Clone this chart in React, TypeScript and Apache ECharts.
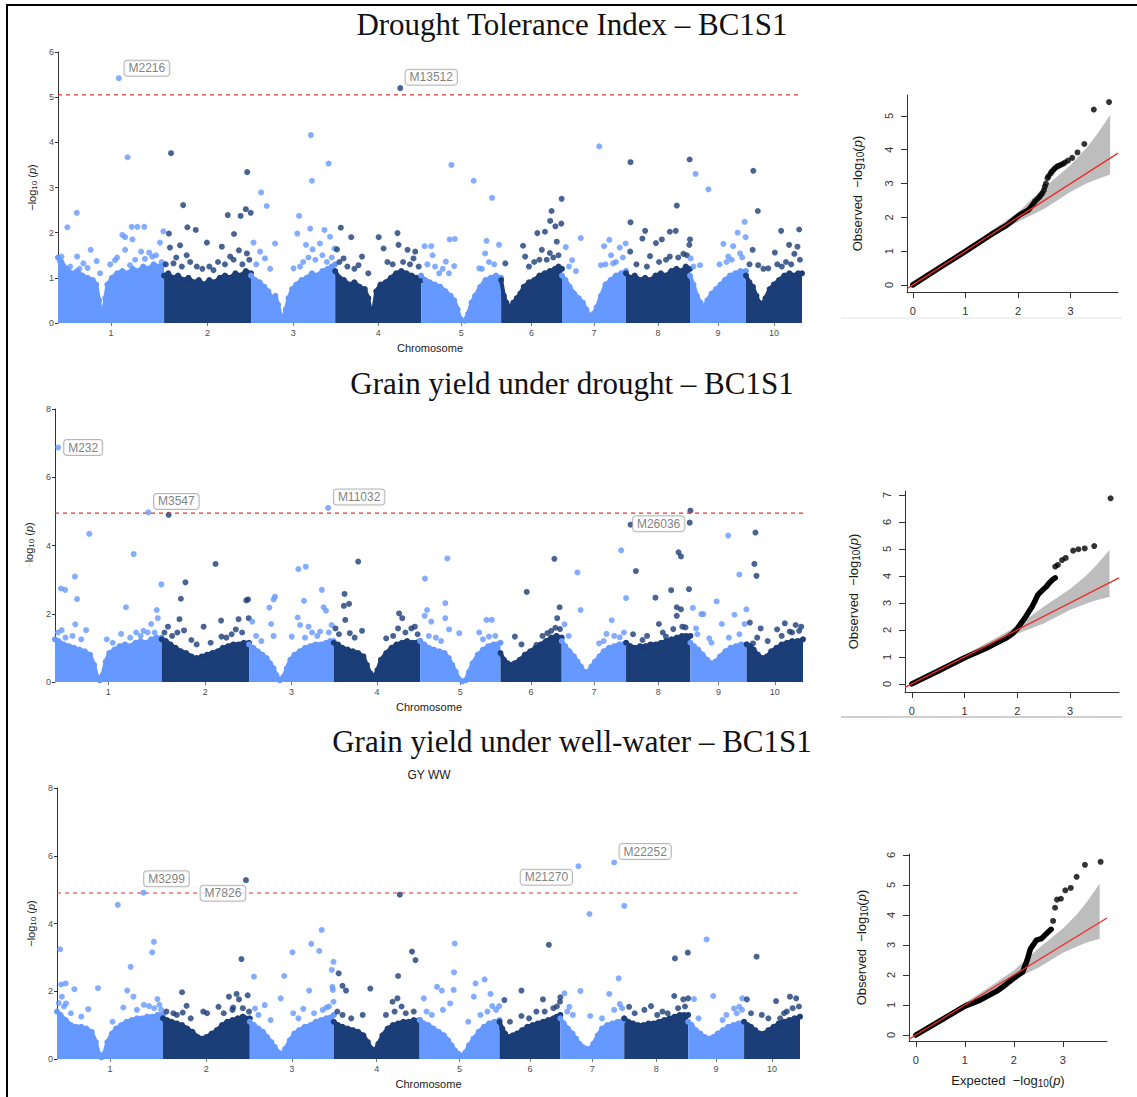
import React, { useEffect, useRef } from "react";
import * as echarts from "echarts";

const W = 1137;
const H = 1097;
const SANS = "'Liberation Sans', Arial, sans-serif";
const SERIF = "'Liberation Serif', 'Times New Roman', serif";
const LIGHT = "#6699ff";
const DARK = "#1b3d78";

// ---------- data ----------
const chromosomes = ["1", "2", "3", "4", "5", "6", "7", "8", "9", "10"];
const chromLengths = [305, 250, 242, 247, 230, 175, 184, 184, 161, 161];

const titles = [
  "Drought Tolerance Index – BC1S1",
  "Grain yield under drought – BC1S1",
  "Grain yield under well-water – BC1S1",
];
const subtitle3 = "GY WW";
const yMaxes = [6, 8, 8];
const yIntervals = [1, 2, 2];
const thresholds = [5.05, 4.95, 4.9];

// dense bottom mass of markers: per chromosome [position, upper -log10(p)]
const envelope1: number[][][] = [
  [[0, 1.45], [10, 1.35], [25, 1.2], [40, 1.1], [55, 1.15], [70, 1.05], [85, 1.0], [100, 0.95], [110, 0.85], [118, 0.5], [124, 0.2], [130, 0.2], [136, 0.55], [142, 0.85], [155, 1.0], [170, 1.1], [185, 1.15], [200, 1.1], [215, 1.2], [230, 1.15], [245, 1.25], [260, 1.2], [275, 1.3], [290, 1.25], [305, 1.3]],
  [[0, 1.05], [12, 1.1], [25, 1.0], [40, 1.05], [55, 0.95], [70, 1.0], [85, 0.9], [100, 0.95], [115, 0.85], [130, 0.95], [145, 0.9], [160, 1.0], [175, 1.05], [190, 1.0], [205, 1.1], [220, 1.05], [235, 1.15], [250, 1.1]],
  [[0, 1.05], [12, 0.95], [25, 0.9], [38, 0.8], [50, 0.7], [60, 0.55], [70, 0.6], [78, 0.4], [85, 0.15], [92, 0.1], [100, 0.3], [108, 0.55], [118, 0.75], [130, 0.85], [145, 0.95], [160, 1.0], [175, 1.1], [190, 1.05], [205, 1.15], [220, 1.2], [232, 1.25], [242, 1.3]],
  [[0, 1.15], [12, 1.0], [25, 0.95], [40, 0.85], [55, 0.9], [70, 0.8], [85, 0.75], [95, 0.55], [102, 0.25], [110, 0.3], [118, 0.7], [130, 0.85], [145, 0.9], [160, 1.0], [175, 1.1], [190, 1.15], [205, 1.1], [220, 1.05], [235, 1.0], [247, 0.95]],
  [[0, 1.05], [12, 0.95], [25, 0.9], [40, 0.85], [55, 0.8], [70, 0.7], [85, 0.6], [95, 0.5], [105, 0.3], [112, 0.1], [125, 0.05], [135, 0.2], [145, 0.45], [155, 0.6], [170, 0.8], [185, 0.95], [200, 1.0], [215, 1.05], [230, 1.0]],
  [[0, 0.95], [8, 0.6], [15, 0.45], [25, 0.35], [35, 0.45], [45, 0.55], [55, 0.65], [65, 0.8], [80, 0.9], [95, 0.95], [110, 1.05], [125, 1.1], [140, 1.15], [155, 1.2], [165, 1.25], [175, 1.2]],
  [[0, 1.05], [10, 0.95], [22, 0.8], [35, 0.65], [48, 0.55], [60, 0.45], [70, 0.3], [80, 0.15], [90, 0.2], [100, 0.35], [112, 0.6], [125, 0.85], [140, 0.95], [155, 1.05], [170, 1.1], [184, 1.15]],
  [[0, 1.1], [12, 1.0], [25, 1.05], [40, 0.95], [55, 1.0], [70, 0.95], [85, 1.05], [100, 1.1], [115, 1.05], [130, 1.15], [145, 1.2], [160, 1.15], [172, 1.25], [184, 1.2]],
  [[0, 1.05], [10, 0.85], [20, 0.6], [30, 0.45], [40, 0.35], [50, 0.5], [62, 0.65], [75, 0.75], [88, 0.85], [100, 0.95], [115, 1.05], [130, 1.1], [145, 1.15], [161, 1.15]],
  [[0, 1.05], [10, 0.9], [20, 0.8], [30, 0.6], [38, 0.45], [46, 0.4], [56, 0.55], [68, 0.75], [80, 0.85], [95, 0.95], [110, 1.05], [125, 1.1], [140, 1.05], [150, 1.1], [161, 1.1]],
];
const envelope2: number[][][] = [
  [[0, 1.25], [10, 1.2], [25, 1.1], [40, 1.05], [55, 1.0], [70, 0.95], [85, 0.9], [100, 0.8], [112, 0.5], [120, 0.15], [128, 0.05], [136, 0.2], [145, 0.6], [155, 0.85], [170, 0.95], [185, 1.05], [200, 1.1], [215, 1.05], [230, 1.15], [245, 1.2], [260, 1.15], [275, 1.25], [290, 1.3], [305, 1.3]],
  [[0, 1.25], [12, 1.2], [25, 1.1], [40, 1.0], [55, 0.9], [70, 0.85], [85, 0.75], [100, 0.7], [115, 0.75], [130, 0.8], [145, 0.85], [160, 0.9], [175, 1.0], [190, 1.05], [205, 1.1], [220, 1.1], [235, 1.15], [250, 1.15]],
  [[0, 1.1], [12, 1.0], [25, 0.9], [38, 0.8], [50, 0.7], [60, 0.55], [70, 0.4], [78, 0.2], [88, 0.05], [98, 0.15], [108, 0.4], [118, 0.65], [130, 0.8], [145, 0.9], [160, 1.0], [175, 1.05], [190, 1.1], [205, 1.1], [220, 1.15], [232, 1.2], [242, 1.2]],
  [[0, 1.15], [12, 1.1], [25, 1.0], [40, 0.95], [55, 0.9], [70, 0.85], [85, 0.75], [95, 0.5], [105, 0.25], [115, 0.15], [125, 0.35], [135, 0.65], [150, 0.85], [165, 1.0], [180, 1.1], [195, 1.15], [210, 1.2], [225, 1.15], [247, 1.2]],
  [[0, 1.2], [12, 1.1], [25, 1.0], [40, 0.95], [55, 0.9], [70, 0.85], [82, 0.7], [92, 0.5], [102, 0.3], [110, 0.1], [120, 0.02], [130, 0.05], [140, 0.3], [150, 0.55], [165, 0.8], [180, 0.95], [195, 1.05], [210, 1.1], [230, 1.15]],
  [[0, 0.85], [10, 0.65], [20, 0.55], [30, 0.5], [40, 0.55], [55, 0.65], [70, 0.8], [85, 0.9], [100, 1.0], [115, 1.1], [130, 1.2], [145, 1.3], [160, 1.35], [175, 1.3]],
  [[0, 1.2], [10, 1.05], [22, 0.9], [35, 0.75], [45, 0.6], [55, 0.45], [65, 0.3], [75, 0.3], [85, 0.45], [95, 0.6], [108, 0.75], [120, 0.9], [135, 1.0], [150, 1.05], [165, 1.1], [184, 1.15]],
  [[0, 1.15], [12, 1.05], [25, 1.0], [40, 1.05], [55, 1.05], [70, 1.1], [85, 1.1], [100, 1.15], [115, 1.2], [130, 1.25], [145, 1.3], [160, 1.35], [172, 1.35], [184, 1.35]],
  [[0, 1.15], [10, 1.05], [22, 0.95], [35, 0.8], [48, 0.65], [60, 0.55], [72, 0.6], [85, 0.75], [100, 0.9], [115, 1.0], [130, 1.05], [145, 1.1], [161, 1.1]],
  [[0, 1.1], [10, 1.05], [20, 0.95], [32, 0.8], [45, 0.7], [58, 0.75], [70, 0.9], [85, 1.0], [100, 1.1], [115, 1.15], [130, 1.2], [145, 1.2], [161, 1.25]],
];
const envelope3: number[][][] = [
  [[0, 1.4], [10, 1.3], [25, 1.15], [40, 1.0], [55, 0.95], [70, 0.95], [85, 0.9], [100, 0.8], [112, 0.5], [120, 0.15], [128, 0.05], [136, 0.15], [145, 0.5], [158, 0.75], [170, 0.9], [185, 1.0], [200, 1.1], [215, 1.15], [230, 1.2], [245, 1.2], [260, 1.25], [275, 1.25], [290, 1.3], [305, 1.3]],
  [[0, 1.2], [12, 1.15], [25, 1.1], [40, 1.05], [55, 1.0], [70, 0.9], [85, 0.8], [100, 0.65], [112, 0.6], [125, 0.65], [140, 0.75], [155, 0.85], [170, 1.0], [185, 1.1], [200, 1.15], [215, 1.2], [230, 1.25], [250, 1.2]],
  [[0, 1.1], [12, 1.0], [25, 0.9], [38, 0.8], [50, 0.65], [62, 0.5], [72, 0.35], [82, 0.2], [92, 0.15], [102, 0.3], [115, 0.55], [128, 0.75], [142, 0.85], [158, 0.95], [175, 1.0], [190, 1.1], [205, 1.15], [220, 1.2], [242, 1.3]],
  [[0, 1.1], [12, 1.0], [25, 0.95], [40, 0.9], [55, 0.85], [70, 0.8], [85, 0.7], [98, 0.5], [108, 0.3], [118, 0.25], [128, 0.45], [140, 0.7], [155, 0.9], [170, 1.0], [185, 1.05], [200, 1.1], [215, 1.1], [230, 1.15], [247, 1.15]],
  [[0, 1.15], [12, 1.05], [25, 1.0], [40, 0.9], [55, 0.8], [70, 0.7], [82, 0.55], [92, 0.4], [102, 0.25], [112, 0.15], [122, 0.1], [132, 0.2], [142, 0.4], [155, 0.6], [170, 0.8], [185, 0.95], [200, 1.05], [215, 1.1], [230, 1.15]],
  [[0, 1.1], [8, 0.9], [16, 0.75], [26, 0.65], [38, 0.7], [50, 0.75], [65, 0.85], [80, 0.95], [95, 1.0], [110, 1.05], [125, 1.1], [140, 1.15], [155, 1.2], [165, 1.25], [175, 1.3]],
  [[0, 1.2], [10, 1.05], [22, 0.9], [35, 0.75], [45, 0.6], [55, 0.45], [65, 0.35], [75, 0.3], [85, 0.3], [95, 0.45], [108, 0.7], [120, 0.9], [135, 1.0], [150, 1.05], [165, 1.1], [184, 1.15]],
  [[0, 1.2], [12, 1.1], [25, 1.05], [40, 1.0], [55, 1.0], [70, 1.05], [85, 1.05], [100, 1.1], [115, 1.15], [130, 1.2], [145, 1.25], [160, 1.3], [172, 1.3], [184, 1.3]],
  [[0, 1.1], [10, 1.0], [22, 0.85], [35, 0.75], [48, 0.65], [60, 0.6], [72, 0.65], [85, 0.75], [100, 0.85], [115, 0.95], [130, 1.0], [145, 1.05], [161, 1.1]],
  [[0, 1.1], [10, 1.0], [20, 0.95], [32, 0.85], [45, 0.75], [58, 0.75], [70, 0.85], [85, 0.95], [100, 1.05], [115, 1.1], [130, 1.15], [145, 1.2], [161, 1.25]],
];

// individual markers above the dense mass: [chromosome, position, -log10(p)]
const points1: number[][] = [
  [1, 200, 3.67], [1, 54, 2.44], [1, 27, 2.12], [1, 10, 1.47], [1, 55, 1.47], [1, 94, 1.62], [1, 111, 1.37], [1, 73, 1.32], [1, 121, 1.1], [1, 164, 1.39], [1, 185, 1.95], [1, 193, 1.9], [1, 214, 1.85], [1, 212, 2.13], [1, 228, 2.13], [1, 248, 2.13], [1, 193, 1.62], [1, 239, 1.58], [1, 262, 1.56], [1, 293, 1.78], [1, 303, 2.03], [1, 207, 1.28], [1, 271, 1.47],
  [1, 5, 1.38], [1, 35, 1.25], [1, 62, 1.2], [1, 85, 1.22], [1, 150, 1.3], [1, 170, 1.45], [1, 222, 1.4], [1, 250, 1.42], [1, 282, 1.5], [1, 298, 1.35],
  [2, 20, 3.76], [2, 55, 2.61], [2, 67, 2.12], [2, 91, 2.06], [2, 14, 1.98], [2, 17, 1.67], [2, 46, 1.72], [2, 123, 1.78], [2, 166, 1.69], [2, 183, 2.39], [2, 201, 1.97], [2, 220, 2.37], [2, 235, 2.52], [2, 239, 3.34], [2, 249, 2.44], [2, 215, 1.61], [2, 238, 1.54], [2, 65, 1.5], [2, 94, 1.25], [2, 142, 1.17], [2, 190, 1.47], [2, 27, 1.32], [2, 51, 1.25],
  [2, 5, 1.3], [2, 35, 1.45], [2, 75, 1.35], [2, 110, 1.2], [2, 130, 1.25], [2, 155, 1.35], [2, 175, 1.3], [2, 200, 1.4], [2, 225, 1.3], [2, 245, 1.4],
  [3, 29, 2.89], [3, 45, 2.59], [3, 7, 1.78], [3, 26, 1.58], [3, 40, 1.43], [3, 69, 1.76], [3, 133, 1.98], [3, 138, 2.37], [3, 170, 2.09], [3, 175, 3.15], [3, 172, 4.16], [3, 223, 3.53], [3, 211, 2.06], [3, 227, 1.91], [3, 158, 1.73], [3, 177, 1.63], [3, 198, 1.76], [3, 122, 1.21], [3, 141, 1.25], [3, 240, 1.65],
  [3, 15, 1.3], [3, 55, 1.2], [3, 150, 1.35], [3, 165, 1.45], [3, 185, 1.4], [3, 205, 1.5], [3, 218, 1.35], [3, 232, 1.45],
  [4, 5, 1.63], [4, 16, 2.11], [4, 46, 1.9], [4, 125, 1.9], [4, 139, 1.65], [4, 179, 1.99], [4, 182, 1.73], [4, 208, 1.62], [4, 230, 1.58], [4, 77, 1.47], [4, 24, 1.43], [4, 67, 1.28], [4, 225, 1.43],
  [4, 12, 1.35], [4, 35, 1.25], [4, 55, 1.2], [4, 95, 1.1], [4, 150, 1.35], [4, 165, 1.3], [4, 195, 1.35], [4, 215, 1.3], [4, 240, 1.25],
  [5, 87, 3.5], [5, 151, 3.15], [5, 204, 2.77], [5, 82, 1.85], [5, 97, 1.86], [5, 188, 1.82], [5, 224, 1.73], [5, 10, 1.7], [5, 29, 1.7], [5, 33, 1.5], [5, 71, 1.36], [5, 95, 1.26], [5, 184, 1.54], [5, 167, 1.21], [5, 52, 1.1],
  [5, 18, 1.3], [5, 40, 1.25], [5, 62, 1.2], [5, 80, 1.1], [5, 175, 1.2], [5, 195, 1.35], [5, 210, 1.3],
  [6, 174, 2.75], [6, 145, 2.48], [6, 141, 2.26], [6, 156, 2.14], [6, 173, 2.2], [6, 104, 1.99], [6, 126, 2.02], [6, 63, 1.71], [6, 69, 1.47], [6, 117, 1.62], [6, 160, 1.8], [6, 12, 1.32], [6, 131, 1.4],
  [6, 80, 1.25], [6, 95, 1.35], [6, 110, 1.4], [6, 140, 1.55], [6, 150, 1.45], [6, 165, 1.5],
  [7, 107, 3.91], [7, 54, 1.88], [7, 11, 1.68], [7, 121, 1.7], [7, 136, 1.84], [7, 166, 1.67], [7, 183, 1.76], [7, 29, 1.39], [7, 112, 1.28], [7, 141, 1.5], [7, 147, 1.32],
  [7, 20, 1.25], [7, 40, 1.15], [7, 125, 1.3], [7, 155, 1.35], [7, 175, 1.45],
  [8, 13, 3.56], [8, 13, 2.23], [8, 55, 2.04], [8, 47, 1.87], [8, 86, 1.77], [8, 103, 1.85], [8, 146, 2.6], [8, 143, 2.04], [8, 126, 2.02], [8, 183, 3.62], [8, 184, 1.85], [8, 182, 1.73], [8, 12, 1.58], [8, 69, 1.48], [8, 126, 1.47], [8, 165, 1.53],
  [8, 30, 1.3], [8, 60, 1.25], [8, 95, 1.35], [8, 115, 1.4], [8, 150, 1.45], [8, 175, 1.5],
  [9, 16, 3.3], [9, 53, 2.96], [9, 2, 1.43], [9, 29, 1.28], [9, 96, 1.75], [9, 124, 1.7], [9, 137, 2.0], [9, 157, 2.24], [9, 160, 1.9], [9, 110, 1.47], [9, 144, 1.54],
  [9, 10, 1.25], [9, 85, 1.3], [9, 105, 1.35], [9, 120, 1.4], [9, 150, 1.45],
  [10, 21, 3.37], [10, 34, 2.48], [10, 19, 1.62], [10, 83, 1.56], [10, 101, 2.04], [10, 124, 1.73], [10, 148, 1.69], [10, 153, 2.07], [10, 139, 1.53], [10, 103, 1.25], [10, 64, 1.21], [10, 35, 1.28],
  [10, 10, 1.3], [10, 50, 1.2], [10, 90, 1.3], [10, 115, 1.35], [10, 130, 1.3], [10, 155, 1.4],
];
const points2: number[][] = [
  [1, 17, 2.74], [1, 29, 2.7], [1, 57, 3.09], [1, 63, 2.43], [1, 98, 4.34], [1, 58, 1.69], [1, 89, 1.52], [1, 19, 1.52], [1, 203, 2.19], [1, 225, 3.75], [1, 189, 1.41], [1, 232, 1.45], [1, 253, 1.5], [1, 275, 1.7], [1, 291, 2.11], [1, 294, 1.87], [1, 304, 2.86], [1, 148, 1.25],
  [1, 8, 1.45], [1, 30, 1.3], [1, 50, 1.35], [1, 75, 1.25], [1, 165, 1.15], [1, 215, 1.3], [1, 245, 1.35], [1, 265, 1.45], [1, 285, 1.45],
  [2, 20, 4.9], [2, 68, 2.92], [2, 55, 2.44], [2, 51, 1.84], [2, 18, 1.62], [2, 64, 1.51], [2, 154, 3.46], [2, 170, 1.8], [2, 171, 1.33], [2, 220, 1.84], [2, 242, 2.39], [2, 247, 2.42], [2, 249, 1.87], [2, 120, 1.62], [2, 212, 1.54], [2, 85, 1.23],
  [2, 8, 1.45], [2, 30, 1.35], [2, 45, 1.45], [2, 100, 1.1], [2, 140, 1.15], [2, 185, 1.3], [2, 200, 1.4], [2, 230, 1.45],
  [3, 58, 2.18], [3, 63, 1.7], [3, 70, 2.42], [3, 74, 2.5], [3, 9, 1.77], [3, 139, 1.89], [3, 141, 3.31], [3, 162, 3.38], [3, 157, 2.38], [3, 208, 2.7], [3, 213, 2.19], [3, 220, 2.09], [3, 146, 1.67], [3, 170, 1.62], [3, 203, 1.48], [3, 236, 1.67], [3, 122, 1.33], [3, 70, 1.35],
  [3, 20, 1.35], [3, 35, 1.2], [3, 160, 1.3], [3, 180, 1.45], [3, 195, 1.35], [3, 228, 1.45],
  [4, 31, 2.58], [4, 29, 2.23], [4, 44, 2.29], [4, 33, 1.82], [4, 70, 3.53], [4, 81, 1.5], [4, 5, 1.57], [4, 46, 1.43], [4, 187, 2.01], [4, 196, 1.87], [4, 184, 1.57], [4, 232, 1.62], [4, 150, 1.28], [4, 222, 1.57],
  [4, 15, 1.4], [4, 60, 1.3], [4, 170, 1.35], [4, 205, 1.45], [4, 240, 1.4],
  [5, 78, 3.62], [5, 14, 3.03], [5, 72, 2.31], [5, 20, 2.11], [5, 13, 1.94], [5, 72, 1.87], [5, 32, 1.77], [5, 83, 1.54], [5, 112, 1.43], [5, 190, 1.82], [5, 205, 1.82], [5, 169, 1.45], [5, 197, 1.33],
  [5, 25, 1.35], [5, 45, 1.3], [5, 60, 1.2], [5, 180, 1.25], [5, 215, 1.35],
  [6, 75, 2.64], [6, 154, 3.61], [6, 169, 2.19], [6, 162, 1.87], [6, 157, 1.59], [6, 41, 1.33], [6, 103, 1.09], [6, 134, 1.43],
  [6, 60, 1.1], [6, 120, 1.35], [6, 145, 1.5], [6, 170, 1.55],
  [7, 45, 3.21], [7, 170, 3.86], [7, 54, 2.11], [7, 184, 2.46], [7, 8, 1.69], [7, 143, 1.81], [7, 107, 1.13], [7, 128, 1.41], [7, 166, 1.31],
  [7, 20, 1.35], [7, 120, 1.2], [7, 150, 1.35], [7, 178, 1.45],
  [8, 28, 3.25], [8, 84, 2.47], [8, 129, 2.69], [8, 150, 3.8], [8, 157, 3.68], [8, 145, 2.19], [8, 157, 2.13], [8, 145, 1.94], [8, 180, 2.72], [8, 182, 4.67], [8, 184, 5.02], [8, 94, 1.7], [8, 47, 1.23], [8, 114, 1.33], [8, 161, 1.62],
  [8, 20, 1.4], [8, 60, 1.35], [8, 105, 1.45], [8, 135, 1.55], [8, 170, 1.6],
  [9, 7, 2.17], [9, 108, 4.29], [9, 140, 3.15], [9, 75, 2.36], [9, 160, 2.13], [9, 31, 1.99], [9, 37, 1.99], [9, 90, 1.7], [9, 126, 1.97], [9, 16, 1.57], [9, 54, 1.28], [9, 155, 1.7],
  [9, 20, 1.4], [9, 60, 1.15], [9, 110, 1.3], [9, 140, 1.4],
  [10, 25, 4.38], [10, 22, 3.46], [10, 28, 3.11], [10, 9, 1.74], [10, 40, 1.57], [10, 87, 1.54], [10, 109, 1.72], [10, 140, 1.67], [10, 156, 1.62], [10, 123, 1.48], [10, 18, 1.13],
  [10, 30, 1.3], [10, 60, 1.2], [10, 100, 1.35], [10, 130, 1.45], [10, 150, 1.5],
];
const points3: number[][] = [
  [1, 9, 3.24], [1, 12, 2.2], [1, 25, 2.23], [1, 50, 2.06], [1, 118, 2.09], [1, 90, 1.47], [1, 14, 1.84], [1, 26, 1.64], [1, 175, 4.55], [1, 212, 2.72], [1, 202, 2.02], [1, 220, 1.84], [1, 274, 3.15], [1, 279, 3.46], [1, 289, 1.77], [1, 265, 1.56], [1, 191, 1.52], [1, 300, 1.45],
  [1, 5, 1.65], [1, 20, 1.55], [1, 40, 1.35], [1, 70, 1.25], [1, 160, 1.1], [1, 230, 1.45], [1, 250, 1.6], [1, 280, 1.5], [1, 295, 1.6],
  [2, 55, 1.97], [2, 68, 1.57], [2, 57, 1.37], [2, 127, 1.35], [2, 160, 1.54], [2, 190, 1.84], [2, 212, 1.92], [2, 219, 1.76], [2, 244, 1.88], [2, 226, 2.95], [2, 202, 1.52], [2, 116, 1.4], [2, 30, 1.35],
  [2, 10, 1.4], [2, 40, 1.3], [2, 80, 1.2], [2, 175, 1.35], [2, 200, 1.45], [2, 230, 1.5], [2, 248, 1.4],
  [3, 12, 2.43], [3, 15, 1.49], [3, 43, 1.59], [3, 99, 2.45], [3, 89, 1.79], [3, 123, 3.15], [3, 171, 2.02], [3, 177, 3.4], [3, 200, 3.19], [3, 207, 3.81], [3, 236, 2.63], [3, 241, 2.87], [3, 238, 2.13], [3, 239, 2.04], [3, 154, 1.48], [3, 221, 1.52], [3, 125, 1.35], [3, 241, 1.69],
  [3, 25, 1.3], [3, 60, 1.15], [3, 140, 1.2], [3, 185, 1.35], [3, 210, 1.45], [3, 228, 1.55],
  [4, 14, 2.53], [4, 25, 2.16], [4, 35, 2.02], [4, 25, 1.3], [4, 83, 1.3], [4, 105, 2.08], [4, 185, 2.45], [4, 190, 4.85], [4, 225, 3.17], [4, 235, 2.92], [4, 183, 1.79], [4, 169, 1.69], [4, 207, 1.35],
  [4, 10, 1.4], [4, 50, 1.2], [4, 150, 1.3], [4, 175, 1.4], [4, 195, 1.55], [4, 230, 1.4],
  [5, 101, 3.41], [5, 99, 2.56], [5, 98, 2.04], [5, 50, 2.13], [5, 64, 2.02], [5, 12, 1.79], [5, 88, 1.64], [5, 161, 2.23], [5, 187, 2.35], [5, 156, 1.84], [5, 204, 1.92], [5, 209, 1.56], [5, 229, 1.56], [5, 67, 1.45],
  [5, 20, 1.4], [5, 35, 1.3], [5, 140, 1.1], [5, 175, 1.3], [5, 195, 1.4], [5, 220, 1.45],
  [6, 63, 2.02], [6, 142, 3.37], [6, 125, 1.76], [6, 175, 1.82], [6, 174, 1.69], [6, 14, 1.74], [6, 63, 1.27], [6, 106, 1.4],
  [6, 30, 1.1], [6, 85, 1.2], [6, 130, 1.4], [6, 155, 1.5], [6, 165, 1.55],
  [7, 84, 4.28], [7, 184, 4.52], [7, 168, 2.38], [7, 58, 2.01], [7, 12, 1.94], [7, 141, 1.92], [7, 171, 1.62], [7, 86, 1.27], [7, 26, 1.54], [7, 36, 1.3],
  [7, 20, 1.4], [7, 120, 1.2], [7, 155, 1.45], [7, 178, 1.5],
  [8, 146, 2.97], [8, 183, 3.14], [8, 77, 1.56], [8, 144, 1.86], [8, 170, 1.76], [8, 184, 1.79], [8, 14, 1.54], [8, 58, 1.45], [8, 125, 1.35],
  [8, 30, 1.35], [8, 95, 1.3], [8, 110, 1.4], [8, 155, 1.5], [8, 175, 1.55],
  [9, 53, 3.53], [9, 17, 1.77], [9, 72, 1.86], [9, 156, 1.79], [9, 132, 1.49], [9, 99, 1.15], [9, 147, 1.54],
  [9, 30, 1.2], [9, 110, 1.3], [9, 140, 1.35], [9, 155, 1.45],
  [10, 36, 3.02], [10, 8, 1.76], [10, 51, 1.3], [10, 92, 1.71], [10, 132, 1.84], [10, 150, 1.79], [10, 104, 1.2], [10, 123, 1.4],
  [10, 20, 1.35], [10, 70, 1.2], [10, 115, 1.35], [10, 140, 1.5], [10, 158, 1.55],
];

// labelled markers: [marker, chromosome, position, -log10(p)]
const labels1: [string, number, number, number][] = [["M2216", 1, 175, 5.42], ["M13512", 4, 187, 5.2]];
const labels2: [string, number, number, number][] = [["M232", 1, 9, 6.87], ["M3547", 1, 267, 4.97], ["M11032", 3, 226, 5.1], ["M26036", 8, 13, 4.61]];
const labels3: [string, number, number, number][] = [["M3299", 1, 249, 4.91], ["M7826", 2, 239, 5.28], ["M21270", 7, 52, 5.69], ["M22252", 7, 155, 5.8]];

// QQ plots: dense chain of observed vs expected, then separated tail points
const qqChain1: number[][] = [[0, 0], [0.5, 0.5], [1.0, 0.99], [1.5, 1.5], [1.78, 1.76], [2.03, 2.07], [2.2, 2.22], [2.26, 2.34]];
const qqTail1: number[][] = [[2.29, 2.4], [2.32, 2.47], [2.36, 2.53], [2.4, 2.59], [2.43, 2.65], [2.46, 2.71], [2.49, 2.8], [2.51, 2.91], [2.53, 3.0], [2.56, 3.16], [2.58, 3.22], [2.62, 3.3], [2.64, 3.35], [2.67, 3.4], [2.7, 3.45], [2.74, 3.5], [2.77, 3.52], [2.81, 3.55], [2.85, 3.58], [2.89, 3.62], [2.95, 3.68], [3.03, 3.76], [3.13, 3.92], [3.26, 4.17], [3.44, 5.19], [3.73, 5.41]];
const qqChain2: number[][] = [[0, 0], [0.5, 0.48], [1.0, 0.97], [1.41, 1.32], [1.6, 1.51], [1.79, 1.7], [1.92, 1.88], [2.0, 2.05], [2.08, 2.27], [2.16, 2.49], [2.22, 2.68], [2.28, 2.86], [2.33, 3.05], [2.39, 3.3], [2.47, 3.46], [2.55, 3.6], [2.61, 3.75], [2.68, 3.88], [2.72, 3.93]];
const qqTail2: number[][] = [[2.72, 4.35], [2.77, 4.41], [2.85, 4.59], [2.92, 4.67], [3.06, 4.94], [3.16, 4.99], [3.28, 5.02], [3.46, 5.11], [3.77, 6.88]];
const qqChain3: number[][] = [[0, 0], [0.5, 0.48], [1.0, 0.96], [1.31, 1.16], [1.65, 1.46], [1.82, 1.66], [1.99, 1.88], [2.11, 2.02], [2.18, 2.1], [2.22, 2.27], [2.27, 2.49], [2.31, 2.71], [2.34, 2.88], [2.39, 2.99], [2.46, 3.16], [2.56, 3.21], [2.63, 3.32], [2.7, 3.43], [2.76, 3.52]];
const qqTail3: number[][] = [[2.8, 3.8], [2.84, 4.24], [2.88, 4.51], [2.96, 4.54], [3.05, 4.82], [3.16, 4.9], [3.28, 5.27], [3.45, 5.67], [3.77, 5.77]];

// 95% confidence band
const bandX = [0, 0.5, 1.0, 1.5, 2.0, 2.5, 3.0, 3.3, 3.5, 3.75];
const bandUpper1 = [0.03, 0.56, 1.07, 1.6, 2.15, 2.88, 3.55, 4.05, 4.45, 5.03];
const bandLower1 = [0, 0.45, 0.94, 1.42, 1.87, 2.25, 2.76, 3.0, 3.13, 3.27];
const bandUpper2 = [0.03, 0.56, 1.07, 1.6, 2.15, 2.86, 3.52, 4.0, 4.4, 4.96];
const bandLower2 = [0, 0.45, 0.94, 1.42, 1.86, 2.24, 2.74, 2.97, 3.1, 3.23];
const bandUpper3 = [0.03, 0.56, 1.07, 1.6, 2.15, 2.88, 3.55, 4.05, 4.46, 5.04];
const bandLower3 = [0, 0.45, 0.94, 1.42, 1.86, 2.24, 2.74, 2.96, 3.09, 3.21];
const qqTicksX = [0, 1, 2, 3];

// ---------- layout / style ----------
const manGrids = [
  { left: 58, top: 52, width: 744, height: 271 },
  { left: 55, top: 409, width: 748, height: 273 },
  { left: 57, top: 788, width: 743, height: 271 },
];
const qqGrids = [
  { left: 907, top: 95, width: 211, height: 197 },
  { left: 905, top: 491, width: 214, height: 201 },
  { left: 909, top: 854, width: 198, height: 187 },
];
const qqRanges = [
  { xMin: -0.11, xMax: 3.9, yMin: -0.21, yMax: 5.62, yTicks: [0, 1, 2, 3, 4, 5] },
  { xMin: -0.13, xMax: 3.93, yMin: -0.3, yMax: 7.15, yTicks: [0, 1, 2, 3, 4, 5, 6, 7] },
  { xMin: -0.14, xMax: 3.9, yMin: -0.2, yMax: 6.03, yTicks: [0, 1, 2, 3, 4, 5, 6] },
];
const manNameGaps = [15, 16, 15];
const qqNameGaps = [42, 44, 40];
const labelOffsets: Record<string, number[]> = {
  M2216: [28, -10],
  M13512: [31, -11],
  M232: [25, 0],
  M3547: [28, -11],
  M11032: [31, -11],
  M26036: [28, -1],
  M3299: [23, -14],
  M7826: [-23, 13],
  M21270: [-32, 11],
  M22252: [31, -11],
};

function buildOption() {
  const starts: number[] = [];
  let acc = 0;
  chromLengths.forEach((l) => {
    starts.push(acc);
    acc += l;
  });
  const total = acc;
  const mids = chromLengths.map((l, i) => starts[i] + l / 2);
  const colorOf = (c: number) => (c % 2 === 1 ? LIGHT : DARK);

  const envelopes = [envelope1, envelope2, envelope3];
  const points = [points1, points2, points3];
  const labels = [labels1, labels2, labels3];
  const qqChains = [qqChain1, qqChain2, qqChain3];
  const qqTails = [qqTail1, qqTail2, qqTail3];
  const bandsU = [bandUpper1, bandUpper2, bandUpper3];
  const bandsL = [bandLower1, bandLower2, bandLower3];

  const grid: any[] = [];
  const xAxis: any[] = [];
  const yAxis: any[] = [];
  const series: any[] = [];

  const logRich = (size: number, subSize: number, minusColor: string) => ({
    m: { fontSize: size, fontFamily: SANS, color: minusColor },
    t: { fontSize: size, fontFamily: SANS, color: "#1a1a1a" },
    s: { fontSize: subSize, fontFamily: SANS, color: "#1a1a1a", verticalAlign: "bottom", lineHeight: size + 2 },
    i: { fontSize: size, fontFamily: SANS, color: "#1a1a1a", fontStyle: "italic" },
  });

  // Manhattan panels
  for (let p = 0; p < 3; p++) {
    grid.push({ ...manGrids[p], outerBoundsMode: "none", containLabel: false });
    xAxis.push({
      gridIndex: p,
      type: "value",
      min: 0,
      max: total,
      axisLine: { show: false, onZero: false },
      splitLine: { show: false },
      axisTick: { show: true, length: 3, customValues: mids, lineStyle: { color: "#777", width: 1 } },
      axisLabel: {
        customValues: mids,
        fontSize: 9,
        color: "#4d4d4d",
        fontFamily: SANS,
        margin: 5,
        formatter: (v: number) => {
          const i = mids.findIndex((m) => Math.abs(m - v) < 1e-6);
          return i >= 0 ? chromosomes[i] : "";
        },
      },
      name: "Chromosome",
      nameLocation: "middle",
      nameGap: 19,
      nameTextStyle: { fontSize: 11, color: "#1a1a1a", fontFamily: SANS },
    });
    yAxis.push({
      gridIndex: p,
      type: "value",
      min: 0,
      max: yMaxes[p],
      interval: yIntervals[p],
      axisLine: { show: true, onZero: false, lineStyle: { color: "#333", width: 1 } },
      axisTick: { show: true, length: 3, lineStyle: { color: "#333" } },
      axisLabel: { fontSize: 9, color: "#4d4d4d", fontFamily: SANS, margin: 4 },
      splitLine: { show: false },
      name: "{m|−}{t|log}{s|10}{t| (}{i|p}{t|)}",
      nameLocation: "middle",
      nameRotate: 90,
      nameGap: manNameGaps[p],
      nameTextStyle: { rich: logRich(11, 8, p === 1 ? "#cfe3cf" : "#1a1a1a") },
    });

    envelopes[p].forEach((env, c) => {
      series.push({
        type: "line",
        xAxisIndex: p,
        yAxisIndex: p,
        data: env.map(([pos, v]) => [starts[c] + pos, v]),
        symbol: "circle",
        symbolSize: 6,
        showSymbol: true,
        showAllSymbol: true,
        itemStyle: { color: colorOf(c + 1) },
        silent: true,
        z: 1,
        lineStyle: { color: colorOf(c + 1), width: 4, cap: "round", join: "round" },
        areaStyle: { color: colorOf(c + 1), opacity: 1 },
      });
    });

    series.push({
      type: "scatter",
      xAxisIndex: p,
      yAxisIndex: p,
      symbolSize: 6,
      silent: true,
      clip: false,
      z: 3,
      data: points[p].map(([c, pos, v]) => ({
        value: [starts[c - 1] + pos, v],
        itemStyle: { color: colorOf(c) },
      })),
    });

    // genome-wide significance threshold
    series.push({
      type: "line",
      xAxisIndex: p,
      yAxisIndex: p,
      data: [[0, thresholds[p]], [total, thresholds[p]]],
      symbol: "none",
      silent: true,
      z: 4,
      lineStyle: { color: "#dd3333", type: [4, 4], width: 1.2 },
    });

    series.push({
      type: "scatter",
      xAxisIndex: p,
      yAxisIndex: p,
      symbolSize: 6,
      silent: true,
      clip: false,
      z: 5,
      data: labels[p].map(([name, c, pos, v]) => ({
        name,
        value: [starts[c - 1] + pos, v],
        itemStyle: { color: colorOf(c) },
        label: {
          show: true,
          position: "inside",
          offset: labelOffsets[name],
          formatter: name,
          fontSize: 12,
          fontFamily: SANS,
          color: "#5e5e5e",
          backgroundColor: "#ffffff",
          borderColor: "#a5a5a5",
          borderWidth: 1,
          borderRadius: 3,
          padding: [2, 4, 1, 4],
        },
      })),
    });
  }

  // QQ panels
  for (let q = 0; q < 3; q++) {
    const gi = 3 + q;
    const r = qqRanges[q];
    grid.push({ ...qqGrids[q], outerBoundsMode: "none", containLabel: false });
    xAxis.push({
      gridIndex: gi,
      type: "value",
      min: r.xMin,
      max: r.xMax,
      axisLine: { show: true, onZero: false, lineStyle: { color: "#333", width: 1 } },
      axisTick: { show: true, length: 6, customValues: qqTicksX, lineStyle: { color: "#333" } },
      axisLabel: { customValues: qqTicksX, fontSize: 11, color: "#333", fontFamily: SANS, margin: 13 },
      splitLine: { show: false },
      ...(q === 2
        ? {
            name: "{t|Expected  }{m|−}{t|log}{s|10}{t|(}{i|p}{t|)}",
            nameLocation: "middle",
            nameGap: 32,
            nameTextStyle: { rich: logRich(13, 10, "#1a1a1a") },
          }
        : {}),
    });
    yAxis.push({
      gridIndex: gi,
      type: "value",
      min: r.yMin,
      max: r.yMax,
      axisLine: { show: true, onZero: false, lineStyle: { color: "#333", width: 1 } },
      axisTick: { show: true, length: 6, customValues: r.yTicks, lineStyle: { color: "#333" } },
      axisLabel: { customValues: r.yTicks, rotate: 90, fontSize: 11, color: "#333", fontFamily: SANS, margin: 13 },
      splitLine: { show: false },
      name: "{t|Observed  }{m|−}{t|log}{s|10}{t|(}{i|p}{t|)}",
      nameLocation: "middle",
      nameRotate: 90,
      nameGap: qqNameGaps[q],
      nameTextStyle: { rich: logRich(13, 10, "#1a1a1a") },
    });

    const U = bandsU[q];
    const L = bandsL[q];
    series.push({
      type: "custom",
      xAxisIndex: gi,
      yAxisIndex: gi,
      silent: true,
      z: 1,
      data: [[0, 0]],
      renderItem: (_params: any, api: any) => {
        const up = bandX.map((x, k) => api.coord([x, U[k]]));
        const lo = bandX.map((x, k) => api.coord([x, L[k]])).reverse();
        return { type: "polygon", shape: { points: up.concat(lo) }, style: { fill: "#bdbdbd" } };
      },
    });
    series.push({
      type: "line",
      xAxisIndex: gi,
      yAxisIndex: gi,
      data: qqChains[q],
      symbol: "none",
      silent: true,
      z: 3,
      lineStyle: { color: "#000", width: 5.5, cap: "round", join: "round" },
    });
    series.push({
      type: "scatter",
      xAxisIndex: gi,
      yAxisIndex: gi,
      data: qqTails[q],
      symbolSize: 6,
      silent: true,
      z: 3,
      itemStyle: { color: "#000" },
    });
    series.push({
      type: "line",
      xAxisIndex: gi,
      yAxisIndex: gi,
      data: [[r.xMin, r.xMin], [r.xMax, r.xMax]],
      symbol: "none",
      silent: true,
      z: 4,
      lineStyle: { color: "#ee2b2b", width: 1.3 },
    });
  }

  const titleY = [24, 383, 741];
  const graphic: any[] = [
    { type: "line", shape: { x1: 7, y1: 4, x2: 7, y2: H }, style: { stroke: "#000", lineWidth: 2 }, silent: true },
    { type: "line", shape: { x1: 6, y1: 5, x2: W, y2: 5 }, style: { stroke: "#000", lineWidth: 2 }, silent: true },
    { type: "line", shape: { x1: 841, y1: 318, x2: 1122, y2: 318 }, style: { stroke: "#e2e2e2", lineWidth: 1 }, silent: true },
    { type: "line", shape: { x1: 841, y1: 717, x2: 1122, y2: 717 }, style: { stroke: "#9e9e9e", lineWidth: 1 }, silent: true },
    ...titles.map((t, i) => ({
      type: "text",
      x: 572,
      y: titleY[i],
      silent: true,
      style: { text: t, fontSize: 31, fontFamily: SERIF, fill: "#111", align: "center", verticalAlign: "middle" },
    })),
    {
      type: "text",
      x: 429,
      y: 775,
      silent: true,
      style: { text: subtitle3, fontSize: 12, fontFamily: SANS, fill: "#1a1a1a", align: "center", verticalAlign: "middle" },
    },
  ];

  return {
    animation: false,
    backgroundColor: "#ffffff",
    grid,
    xAxis,
    yAxis,
    series,
    graphic,
  };
}

export default function App() {
  const ref = useRef<HTMLDivElement>(null);
  useEffect(() => {
    if (!ref.current) return;
    const chart = echarts.init(ref.current, null, { renderer: "svg", width: W, height: H });
    chart.setOption(buildOption() as any);
    return () => chart.dispose();
  }, []);
  return (
    <div
      ref={ref}
      style={{ position: "absolute", left: 0, top: 0, width: W, height: H, background: "#fff" }}
    />
  );
}
